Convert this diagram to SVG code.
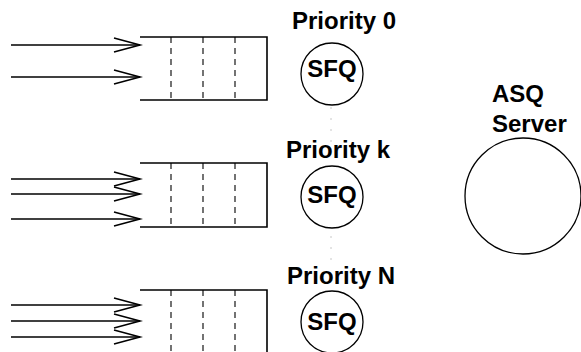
<svg xmlns="http://www.w3.org/2000/svg" width="581" height="352" viewBox="0 0 581 352">
<defs>
<style>
.q{fill:none;stroke:#000;stroke-width:1.6}
.d{fill:none;stroke:#000;stroke-width:1.1;stroke-dasharray:6,5}
.a{fill:none;stroke:#000;stroke-width:1.6}
.c{fill:none;stroke:#000;stroke-width:1.3}
.t{font-family:"Liberation Sans",Arial,sans-serif;font-weight:bold;font-size:24px;fill:#000}
.dot{stroke:#c8c8c8;stroke-width:1;stroke-dasharray:2,9}
</style>
<marker id="ah" markerWidth="30" markerHeight="18" refX="27" refY="9" orient="auto" markerUnits="userSpaceOnUse">
<path d="M1,2 L27,9 L1,16" fill="none" stroke="#000" stroke-width="1.6"/>
</marker>
</defs>
<g id="queue0">
<path class="q" d="M140,37 H267 V100 H140"/>
<path class="d" d="M171,37 V100 M203,37 V100 M235,37 V100"/>
</g>
<g id="queuek">
<path class="q" d="M140,163 H267 V227 H140"/>
<path class="d" d="M171,163 V227 M203,163 V227 M235,163 V227"/>
</g>
<g id="queueN">
<path class="q" d="M140,290 H267 V360"/>
<path class="d" d="M171,290 V360 M203,290 V360 M235,290 V360"/>
</g>
<g id="sfq0">
<text class="t" x="344" y="29" text-anchor="middle">Priority 0</text>
<circle class="c" cx="332" cy="74" r="31"/>
<text class="t" x="332" y="77" text-anchor="middle">SFQ</text>
</g>
<g id="sfqk">
<text class="t" x="338" y="158" text-anchor="middle">Priority k</text>
<circle class="c" cx="332" cy="197" r="31"/>
<text class="t" x="332" y="203" text-anchor="middle">SFQ</text>
</g>
<g id="sfqN">
<text class="t" x="341" y="284" text-anchor="middle">Priority N</text>
<circle class="c" cx="332" cy="322" r="31"/>
<text class="t" x="332" y="330" text-anchor="middle">SFQ</text>
</g>
<g id="server">
<text class="t" x="492" y="102">ASQ</text>
<text class="t" x="492" y="132">Server</text>
<circle class="c" cx="523" cy="196" r="58"/>
</g>
<g id="connectors">
<line class="a" x1="11" y1="45" x2="140" y2="45" marker-end="url(#ah)"/>
<line class="a" x1="11" y1="77" x2="140" y2="77" marker-end="url(#ah)"/>
<line class="a" x1="11" y1="179" x2="140" y2="179" marker-end="url(#ah)"/>
<line class="a" x1="11" y1="194" x2="140" y2="194" marker-end="url(#ah)"/>
<line class="a" x1="11" y1="219" x2="140" y2="219" marker-end="url(#ah)"/>
<line class="a" x1="11" y1="305" x2="140" y2="305" marker-end="url(#ah)"/>
<line class="a" x1="11" y1="321" x2="140" y2="321" marker-end="url(#ah)"/>
<line class="a" x1="11" y1="337" x2="140" y2="337" marker-end="url(#ah)"/>
<line class="dot" x1="331" y1="107" x2="331" y2="145"/>
<line class="dot" x1="331" y1="236" x2="331" y2="264"/>
</g>
</svg>
